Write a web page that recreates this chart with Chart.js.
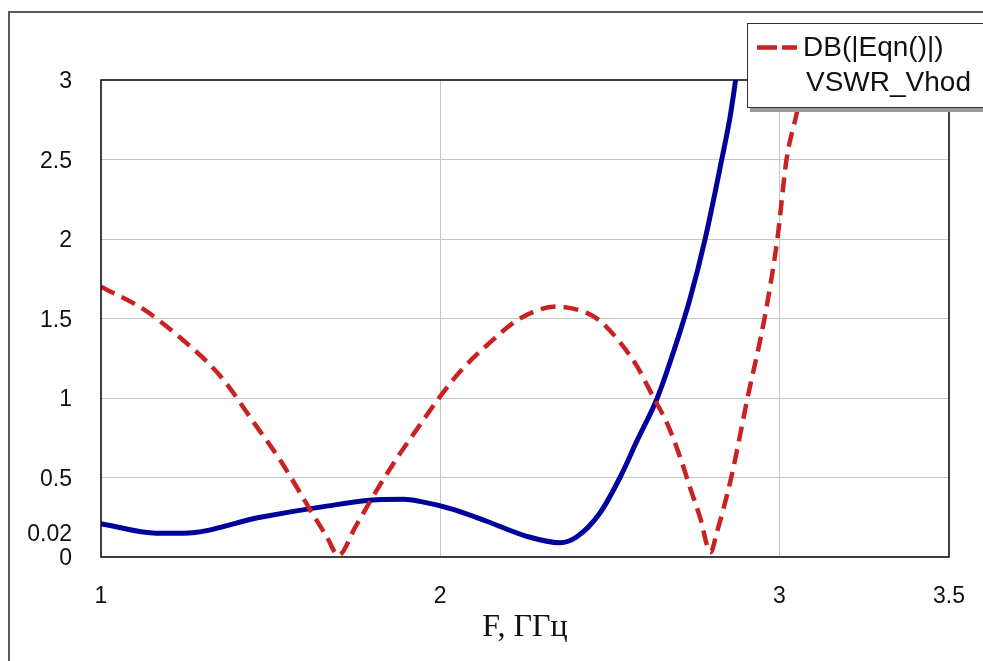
<!DOCTYPE html>
<html>
<head>
<meta charset="utf-8">
<script src="https://cdn.jsdelivr.net/npm/chart.js@4.4.1/dist/chart.umd.min.js"></script>
<style>
html, body { margin: 0; padding: 0; background: #fff; }
#wrap { width: 983px; height: 661px; }
</style>
</head>
<body>
<div id="wrap"><canvas id="chart"></canvas></div>
<script>
// DB(|Eqn()|) - red dashed
var freqDb = [1.0, 1.124, 1.233, 1.351, 1.459, 1.528, 1.616, 1.665, 1.70, 1.75, 1.81, 1.872, 1.94, 2.0, 2.06, 2.137, 2.235, 2.343, 2.432, 2.474, 2.53, 2.58, 2.627, 2.669, 2.707, 2.736, 2.766, 2.797, 2.815, 2.858, 2.906, 2.956, 2.994, 3.021, 3.051, 3.075];
var valDb = [1.70, 1.56, 1.38, 1.14, 0.82, 0.61, 0.30, 0.13, 0.01, 0.19, 0.41, 0.62, 0.83, 1.01, 1.17, 1.33, 1.50, 1.575, 1.535, 1.48, 1.35, 1.20, 1.01, 0.84, 0.63, 0.44, 0.25, 0.03, 0.15, 0.50, 1.0, 1.5, 2.0, 2.5, 2.79, 3.05];

// VSWR_Vhod - blue solid
var freqVswr = [1.0, 1.164, 1.243, 1.47, 1.665, 1.813, 1.891, 1.94, 2.038, 2.137, 2.255, 2.353, 2.402, 2.471, 2.53, 2.58, 2.64, 2.697, 2.736, 2.781, 2.83, 2.854, 2.871];
var valVswr = [0.21, 0.15, 0.15, 0.25, 0.32, 0.36, 0.363, 0.35, 0.30, 0.225, 0.13, 0.09, 0.126, 0.277, 0.50, 0.73, 1.0, 1.35, 1.62, 2.0, 2.5, 2.76, 3.0];

var xTicks = [1, 2, 3, 3.5];
var yTicks = [0, 0.15, 0.5, 1, 1.5, 2, 2.5, 3];
var yTickLabels = ['0', '0.02', '0.5', '1', '1.5', '2', '2.5', '3'];
var xTitle = 'F, ГГц';

function toPoints(xs, ys) {
    return xs.map(function (x, i) { return { x: x, y: ys[i] }; });
}

// frame, plot border and the boxed legend
var decor = {
    id: 'decor',
    beforeDraw: function (chart) {
        var c = chart.ctx;
        c.save();
        c.strokeStyle = '#5a5a5a';
        c.lineWidth = 2;
        c.strokeRect(9, 12, 1000, 700);
        c.restore();
    },
    afterDatasetsDraw: function (chart) {
        var a = chart.chartArea, c = chart.ctx;
        c.save();
        c.strokeStyle = '#000';
        c.lineWidth = 1.5;
        c.strokeRect(a.left, a.top, a.right - a.left, a.bottom - a.top);
        c.restore();
    },
    afterDraw: function (chart) {
        var c = chart.ctx, ds = chart.data.datasets;
        c.save();
        c.fillStyle = '#9a9a9a';
        c.fillRect(750, 27, 260, 85);
        c.fillStyle = '#fff';
        c.fillRect(747, 23, 260, 84);
        c.strokeStyle = '#333';
        c.lineWidth = 1;
        c.strokeRect(747.5, 23.5, 260, 84);
        c.strokeStyle = ds[0].borderColor;
        c.lineWidth = 4.5;
        c.setLineDash([20, 5]);
        c.beginPath();
        c.moveTo(757, 47.5);
        c.lineTo(797, 47.5);
        c.stroke();
        c.setLineDash([]);
        c.fillStyle = '#111';
        c.font = '28px "Liberation Sans", Arial, sans-serif';
        c.textBaseline = 'middle';
        c.fillText(ds[0].label, 803, 48);
        c.fillText(ds[1].label, 806, 83);
        c.restore();
    }
};

new Chart(document.getElementById('chart'), {
    type: 'line',
    data: {
        datasets: [{
            label: 'DB(|Eqn()|)',
            data: toPoints(freqDb, valDb),
            borderColor: '#c82222',
            borderWidth: 4.5,
            borderDash: [15, 8],
            pointRadius: 0,
            cubicInterpolationMode: 'monotone',
            fill: false
        }, {
            label: 'VSWR_Vhod',
            data: toPoints(freqVswr, valVswr),
            borderColor: '#00009c',
            borderWidth: 5,
            pointRadius: 0,
            cubicInterpolationMode: 'monotone',
            fill: false
        }]
    },
    options: {
        responsive: true,
        maintainAspectRatio: false,
        animation: false,
        layout: { padding: { top: 80, right: 34, left: 0, bottom: 0 } },
        plugins: {
            legend: { display: false },
            tooltip: { enabled: false }
        },
        scales: {
            x: {
                type: 'linear',
                min: 1,
                max: 3.5,
                afterBuildTicks: function (s) {
                    s.ticks = xTicks.map(function (v) { return { value: v }; });
                },
                afterFit: function (s) {
                    s.height = 104;
                    s.paddingLeft = 0;
                    s.paddingRight = 0;
                },
                border: { display: false },
                grid: {
                    drawTicks: false,
                    color: function (ctx) {
                        var v = ctx.tick ? ctx.tick.value : null;
                        return (v === 2 || v === 3) ? '#c6c6c6' : 'rgba(0,0,0,0)';
                    }
                },
                ticks: {
                    padding: 26,
                    maxRotation: 0,
                    color: '#111',
                    font: { family: '"Liberation Sans", Arial, sans-serif', size: 23 },
                    callback: function (v) { return String(v); }
                },
                title: {
                    display: true,
                    text: xTitle,
                    color: '#111',
                    padding: 14,
                    font: { family: '"Liberation Serif", "Times New Roman", serif', size: 32 }
                }
            },
            y: {
                type: 'linear',
                min: 0,
                max: 3,
                afterBuildTicks: function (s) {
                    s.ticks = yTicks.map(function (v) { return { value: v }; });
                },
                afterFit: function (s) { s.width = 101; },
                border: { display: false },
                grid: {
                    drawTicks: false,
                    color: function (ctx) {
                        var v = ctx.tick ? ctx.tick.value : null;
                        return (v >= 0.5 && v < 3) ? '#c6c6c6' : 'rgba(0,0,0,0)';
                    }
                },
                ticks: {
                    padding: 29,
                    labelOffset: 2,
                    color: '#111',
                    font: { family: '"Liberation Sans", Arial, sans-serif', size: 23 },
                    callback: function (v, i) { return yTickLabels[i]; }
                }
            }
        }
    },
    plugins: [decor]
});
</script>
</body>
</html>
